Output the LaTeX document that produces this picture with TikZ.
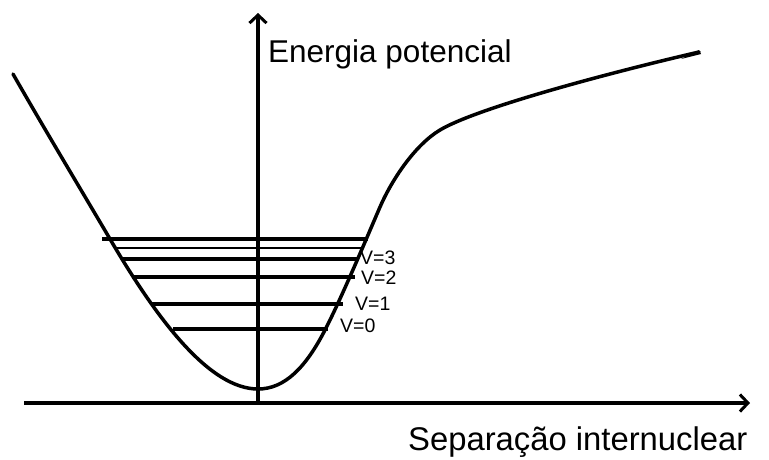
\documentclass[tikz,border=0pt]{standalone}
\usepackage{fontspec}
\setmainfont{Liberation Sans}
\usetikzlibrary{arrows.meta}
\begin{document}
\begin{tikzpicture}[x=1pt,y=-1pt,
  axisline/.style={line width=3.4pt,-{Straight Barb[length=8pt,width=17pt,line width=3pt]}},
  curveline/.style={line width=3.5pt,line join=round,line cap=round},
  level/.style={line width=3.4pt},
  levelthin/.style={line width=2.7pt},
  vlabel/.style={anchor=base west,inner sep=0pt,font=\fontsize{19.5}{22}\selectfont},
  axlabel/.style={anchor=base west,inner sep=0pt,font=\fontsize{31.5}{36}\selectfont}]
\useasboundingbox (0,0) rectangle (769,459);
% axes
\coordinate (vbot) at (258,404);
\coordinate (vtop) at (258,13);
\coordinate (hleft) at (24,403);
\coordinate (hright) at (750,403);
\draw[axisline] (vbot) -- (vtop);
\draw[axisline] (hleft) -- (hright);
% potential curve
\coordinate (c0) at (13,74);
\coordinate (c1) at (110,239);
\coordinate (cmin) at (258,389);
\coordinate (c2) at (325,330);
\coordinate (c3) at (380,207);
\coordinate (c4) at (440,130);
\coordinate (cend) at (699,52);
\draw[curveline] (c0) .. controls (45,130) and (80,188) .. (c1)
  .. controls (158,321) and (210,389) .. (cmin)
  .. controls (285,389) and (306,367) .. (c2)
  .. controls (343,295) and (370,230) .. (c3)
  .. controls (392,179.4) and (415,145) .. (c4)
  .. controls (475,109) and (600,75) .. (cend);
\fill (681,59) -- (699,50) -- (701,54) -- cycle;
% vibrational levels
\coordinate (l1a) at (102,239); \coordinate (l1b) at (368,239);
\coordinate (l2a) at (115,248); \coordinate (l2b) at (361,248);
\coordinate (l3a) at (123,259); \coordinate (l3b) at (358,259);
\coordinate (l4a) at (132,277); \coordinate (l4b) at (355,277);
\coordinate (l5a) at (152,304); \coordinate (l5b) at (343,304);
\coordinate (l6a) at (173,329); \coordinate (l6b) at (328,329);
\draw[level] (l1a) -- (l1b);
\draw[levelthin] (l2a) -- (l2b);
\draw[level] (l3a) -- (l3b);
\draw[level] (l4a) -- (l4b);
\draw[level] (l5a) -- (l5b);
\draw[level] (l6a) -- (l6b);
% labels
\node[vlabel] (v3) at (360,264) {V=3};
\node[vlabel] (v2) at (361,284) {V=2};
\node[vlabel] (v1) at (355,310) {V=1};
\node[vlabel] (v0) at (340,332) {V=0};
\node[axlabel] (ylab) at (268,62) {Energia potencial};
\node[anchor=base west,inner sep=0pt,font=\fontsize{32.8}{38}\selectfont] (xlab) at (408,450) {Separação internuclear};
\end{tikzpicture}
\end{document}
